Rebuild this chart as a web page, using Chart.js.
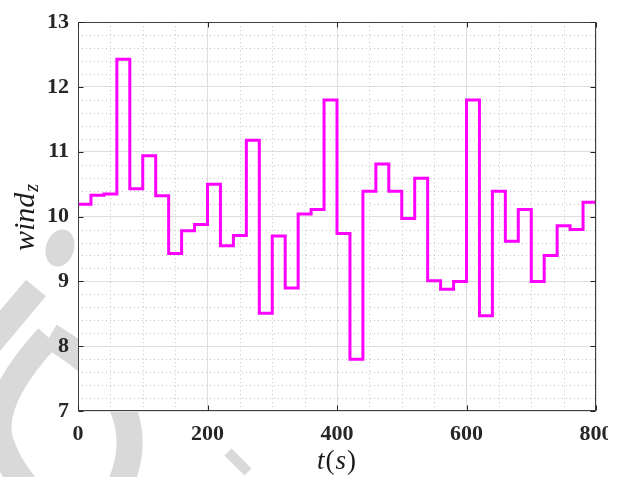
<!DOCTYPE html>
<html>
<head>
<meta charset="utf-8">
<script src="https://cdn.jsdelivr.net/npm/chart.js@4"></script>
<style>
  body { margin: 0; background: #fff; overflow: hidden; width: 622px; height: 477px; }
  #wrap { position: relative; width: 640px; height: 477px; }
  #recorte { position: absolute; left: 608px; top: 0; width: 40px; height: 477px; background: #fff; }
</style>
</head>
<body>
<div id="wrap">
  <canvas id="grafico" width="640" height="477"></canvas>
  <div id="recorte"></div>
</div>
<script>
// tiempos de cambio (s) y valor del viento en z en cada tramo
const tiempos = [0, 20, 40, 60, 80, 100, 120, 140, 160, 180,
                 200, 220, 240, 260, 280, 300, 320, 340, 360, 380,
                 400, 420, 440, 460, 480, 500, 520, 540, 560, 580,
                 600, 620, 640, 660, 680, 700, 720, 740, 760, 780, 800];
const windZ = [10.19, 10.33, 10.35, 12.43, 10.43, 10.94, 10.32, 9.43, 9.78, 9.88,
               10.50, 9.55, 9.71, 11.18, 8.51, 9.70, 8.90, 10.04, 10.11, 11.80,
               9.74, 7.80, 10.39, 10.81, 10.39, 9.97, 10.59, 9.01, 8.88, 9.00,
               11.80, 8.47, 10.39, 9.62, 10.11, 9.00, 9.40, 9.86, 9.80, 10.22, 10.25];
const ticksX = [0, 200, 400, 600, 800];
const ticksY = [7, 8, 9, 10, 11, 12, 13];

const puntos = tiempos.map((t, i) => ({ x: t, y: windZ[i] }));

const fuenteTicks = { family: '"Liberation Serif", "Times New Roman", serif', size: 22, weight: 'bold' };

// Fondo con la marca de agua gris y el area blanca del grafico
const fondo = {
    id: 'fondo',
    beforeDraw(chart) {
        const ctx = chart.ctx;
        const a = chart.chartArea;
        ctx.save();
        ctx.fillStyle = '#fff';
        ctx.fillRect(0, 0, chart.width, chart.height);

        ctx.fillStyle = '#d9d9d9';
        ctx.strokeStyle = '#d9d9d9';
        ctx.lineCap = 'butt';
        ctx.beginPath();
        ctx.ellipse(60, 248, 14, 19, 0.3, 0, Math.PI * 2);
        ctx.fill();

        ctx.lineWidth = 26;
        ctx.beginPath();
        ctx.moveTo(36, 288);
        ctx.lineTo(-12, 345);
        ctx.stroke();

        ctx.beginPath();
        ctx.moveTo(48, 337);
        ctx.quadraticCurveTo(-10, 400, 0, 440);
        ctx.quadraticCurveTo(8, 465, 25, 485);
        ctx.stroke();

        ctx.beginPath();
        ctx.moveTo(50, 336);
        ctx.quadraticCurveTo(160, 400, 118, 490);
        ctx.stroke();

        ctx.lineWidth = 10;
        ctx.beginPath();
        ctx.moveTo(228, 452);
        ctx.lineTo(248, 472);
        ctx.stroke();

        ctx.fillStyle = '#fff';
        ctx.fillRect(a.left, a.top, a.right - a.left, a.bottom - a.top);
        ctx.restore();
    }
};

// Rejilla secundaria punteada (cada 50 s y cada 0.2)
const rejillaMenor = {
    id: 'rejillaMenor',
    beforeDatasetsDraw(chart) {
        const ctx = chart.ctx;
        const a = chart.chartArea;
        const sx = chart.scales.x;
        const sy = chart.scales.y;
        ctx.save();
        ctx.strokeStyle = '#c4c4c4';
        ctx.lineWidth = 1;
        ctx.setLineDash([1, 3]);
        for (let t = 50; t < 800; t += 50) {
            if (t % 200 === 0) continue;
            const px = Math.round(sx.getPixelForValue(t)) + 0.5;
            ctx.beginPath();
            ctx.moveTo(px, a.top);
            ctx.lineTo(px, a.bottom);
            ctx.stroke();
        }
        for (let k = 1; k < 30; k++) {
            if (k % 5 === 0) continue;
            const v = 7 + k * 0.2;
            const py = Math.round(sy.getPixelForValue(v)) + 0.5;
            ctx.beginPath();
            ctx.moveTo(a.left, py);
            ctx.lineTo(a.right, py);
            ctx.stroke();
        }
        ctx.restore();
    }
};

// Caja de ejes con marcas hacia dentro y titulos de los ejes
const cajaYTitulos = {
    id: 'cajaYTitulos',
    afterDraw(chart) {
        const ctx = chart.ctx;
        const a = chart.chartArea;
        const sx = chart.scales.x;
        const sy = chart.scales.y;
        const L = Math.round(a.left) + 0.5, R = Math.round(a.right) - 0.5;
        const T = Math.round(a.top) + 0.5, B = Math.round(a.bottom) - 0.5;
        ctx.save();
        ctx.strokeStyle = '#404040';
        ctx.lineWidth = 1;
        ctx.strokeRect(L, T, R - L, B - T);
        ctx.strokeStyle = '#222';
        const largo = 5;
        ticksX.forEach(t => {
            const px = Math.round(sx.getPixelForValue(t)) + 0.5;
            ctx.beginPath();
            ctx.moveTo(px, B); ctx.lineTo(px, B - largo);
            ctx.moveTo(px, T); ctx.lineTo(px, T + largo);
            ctx.stroke();
        });
        ticksY.forEach(v => {
            const py = Math.round(sy.getPixelForValue(v)) + 0.5;
            ctx.beginPath();
            ctx.moveTo(L, py); ctx.lineTo(L + largo, py);
            ctx.moveTo(R, py); ctx.lineTo(R - largo, py);
            ctx.stroke();
        });

        ctx.fillStyle = '#1a1a1a';
        // titulo eje y: wind_z
        ctx.translate(34, 251);
        ctx.rotate(-Math.PI / 2);
        ctx.textBaseline = 'alphabetic';
        ctx.textAlign = 'left';
        ctx.font = 'italic 30px "Liberation Serif", serif';
        ctx.fillText('wind', 0, 0);
        const w = ctx.measureText('wind').width;
        ctx.font = 'italic 20px "Liberation Serif", serif';
        ctx.fillText('z', w + 1, 4);
        ctx.setTransform(1, 0, 0, 1, 0, 0);

        // titulo eje x: t(s)
        const partes = [
            ['t', 'italic 27px "Liberation Serif", serif'],
            ['(', '27px "Liberation Serif", serif'],
            ['s', 'italic 27px "Liberation Serif", serif'],
            [')', '27px "Liberation Serif", serif']
        ];
        let total = 0;
        partes.forEach(p => { ctx.font = p[1]; total += ctx.measureText(p[0]).width + 1; });
        let x = (a.left + a.right) / 2 - total / 2;
        partes.forEach(p => {
            ctx.font = p[1];
            ctx.fillText(p[0], x, 469);
            x += ctx.measureText(p[0]).width + 1;
        });
        ctx.restore();
    }
};

const ctx = document.getElementById('grafico').getContext('2d');
new Chart(ctx, {
    type: 'line',
    data: {
        datasets: [{
            data: puntos,
            stepped: true,
            borderColor: '#ff00ff',
            borderWidth: 3,
            pointRadius: 0,
            fill: false
        }]
    },
    options: {
        responsive: false,
        animation: false,
        layout: { padding: { left: 0, top: 17, right: 44, bottom: 0 } },
        plugins: { legend: { display: false }, tooltip: { enabled: false } },
        scales: {
            x: {
                type: 'linear',
                min: 0,
                max: 800,
                afterBuildTicks: s => { s.ticks = ticksX.map(v => ({ value: v })); },
                afterFit: s => { s.height = 66; },
                grid: { color: '#dedede', lineWidth: 1, drawTicks: false },
                border: { display: false },
                ticks: { font: fuenteTicks, color: '#262626', padding: 10, maxRotation: 0 }
            },
            y: {
                min: 7,
                max: 13,
                afterBuildTicks: s => { s.ticks = ticksY.map(v => ({ value: v })); },
                afterFit: s => { s.width = 78; },
                grid: { color: '#dedede', lineWidth: 1, drawTicks: false },
                border: { display: false },
                ticks: { font: fuenteTicks, color: '#262626', padding: 9 }
            }
        }
    },
    plugins: [fondo, rejillaMenor, cajaYTitulos]
});
</script>
</body>
</html>
